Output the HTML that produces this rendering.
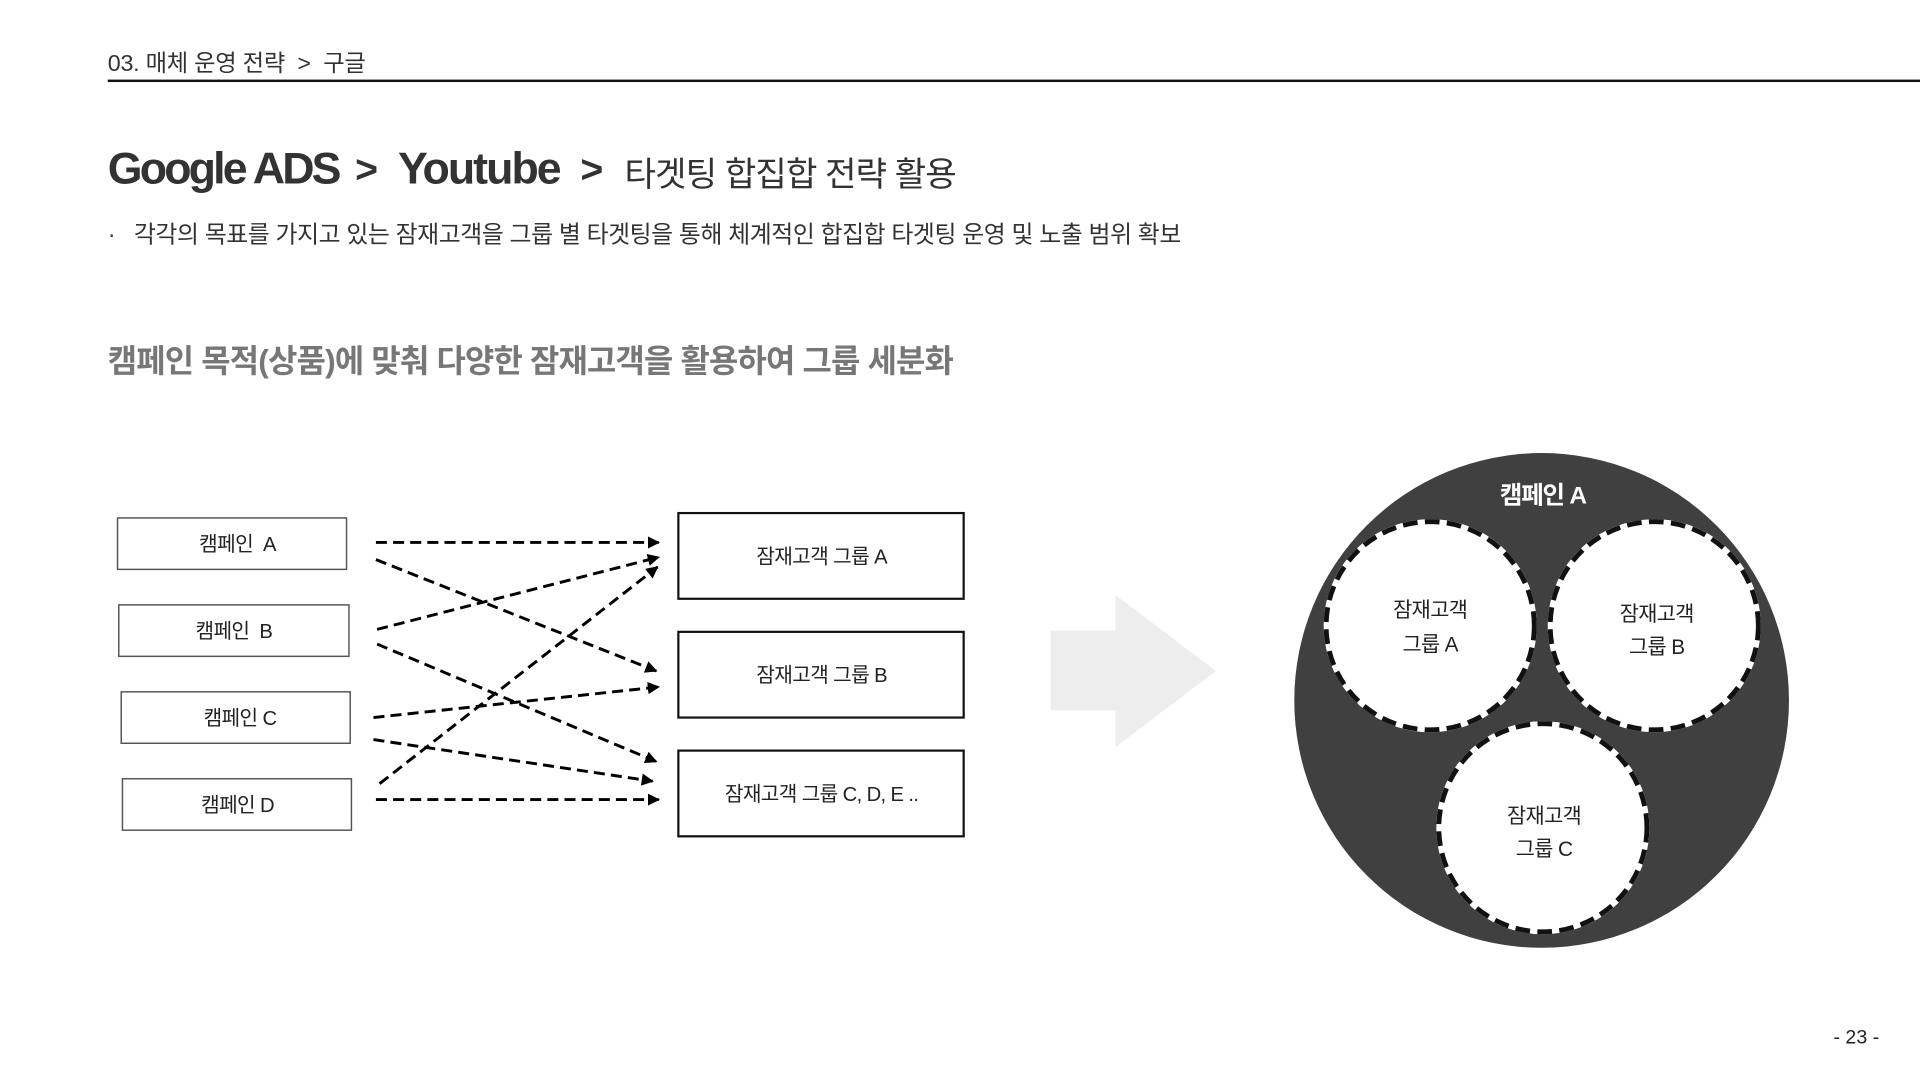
<!DOCTYPE html>
<html><head><meta charset="utf-8"><style>
html,body{margin:0;padding:0;background:#fff;overflow:hidden}
body{width:1920px;height:1080px}
#w{position:absolute;left:0;top:0;width:1568px;height:882px;transform:scale(1.22449);transform-origin:0 0;font-family:"Liberation Sans","Noto Sans CJK KR",sans-serif;color:#222}
.t{position:absolute;white-space:nowrap}
</style></head><body><div id="w">
<div class="t" style="left:88px;top:37px;font-size:19px;color:#333;letter-spacing:-0.2px">03. 매체 운영 전략&nbsp; &gt;&nbsp; 구글</div>
<div style="position:absolute;left:88px;top:65px;width:1480px;height:2px;background:#111"></div>
<div class="t" style="left:88px;top:117px;font-size:36.5px;font-weight:bold;color:#333;letter-spacing:-2.3px">Google ADS</div>
<div class="t" style="left:290px;top:120px;font-size:32px;font-weight:bold;color:#333">&gt;</div>
<div class="t" style="left:325px;top:117px;font-size:36.5px;font-weight:bold;color:#333;letter-spacing:-1.6px">Youtube</div>
<div class="t" style="left:474px;top:120px;font-size:32px;font-weight:bold;color:#333">&gt;</div>
<div class="t" style="left:510px;top:121px;font-size:28px;color:#333;letter-spacing:-0.8px">타겟팅 합집합 전략 활용</div>
<div class="t" style="left:88px;top:175px;font-size:19.5px;color:#333;letter-spacing:-0.35px">·&nbsp;&nbsp; 각각의 목표를 가지고 있는 잠재고객을 그룹 별 타겟팅을 통해 체계적인 합집합 타겟팅 운영 및 노출 범위 확보</div>
<div class="t" style="left:88px;top:275px;font-size:26px;font-weight:bold;color:#777;letter-spacing:-0.65px">캠페인 목적(상품)에 맞춰 다양한 잠재고객을 활용하여 그룹 세분화</div>
<svg style="position:absolute;left:0;top:0" width="1568" height="882" font-family="Liberation Sans, Noto Sans CJK KR, sans-serif">
<defs><marker id="a" markerWidth="10" markerHeight="10" refX="9" refY="5" orient="auto" markerUnits="userSpaceOnUse"><path d="M0,0 L10,5 L0,10z" fill="#000"/></marker></defs>
<g fill="#fff" stroke="#555" stroke-width="1.2">
<rect x="96" y="423" width="187" height="42"/><rect x="97" y="494" width="188" height="42"/><rect x="99" y="565" width="187" height="42"/><rect x="100" y="636" width="187" height="42"/></g>
<g font-size="16.5" fill="#222" text-anchor="middle" letter-spacing="-0.5">
<text x="194" y="450">캠페인&#160; A</text><text x="191" y="521">캠페인&#160; B</text><text x="196" y="592">캠페인 C</text><text x="194" y="663">캠페인 D</text></g>
<g fill="#fff" stroke="#111" stroke-width="1.8">
<rect x="554" y="419" width="233" height="70"/><rect x="554" y="516" width="233" height="70"/><rect x="554" y="613" width="233" height="70"/></g>
<g font-size="16.5" fill="#222" text-anchor="middle" letter-spacing="-0.5">
<text x="671" y="460">잠재고객 그룹 A</text><text x="671" y="557">잠재고객 그룹 B</text><text x="671" y="654">잠재고객 그룹 C, D, E ..</text></g>
<g stroke="#000" stroke-width="2.4" stroke-dasharray="9,5" fill="none" marker-end="url(#a)">
<line x1="307" y1="443" x2="538" y2="443"/><line x1="307" y1="457" x2="536" y2="548"/>
<line x1="308" y1="514" x2="538" y2="455"/><line x1="308" y1="526" x2="536" y2="622"/>
<line x1="305" y1="586" x2="538" y2="561"/><line x1="305" y1="604" x2="533" y2="638"/>
<line x1="310" y1="640" x2="537" y2="463"/><line x1="307" y1="653" x2="538" y2="653"/></g>
<path d="M858,515 H911 V486 L993,548 L911,610 V580 H858z" fill="#ededed"/>
<circle cx="1259" cy="572" r="202" fill="#404040"/>
<text x="1260" y="411" font-size="20" font-weight="bold" fill="#fff" text-anchor="middle" letter-spacing="-1">캠페인 A</text>
<g fill="#fff" stroke="#fff" stroke-width="4"><circle cx="1168" cy="511" r="85"/><circle cx="1351" cy="511" r="85"/><circle cx="1260" cy="676" r="85"/></g>
<g fill="none" stroke="#111" stroke-width="4" stroke-dasharray="12,6"><circle cx="1168" cy="511" r="85"/><circle cx="1351" cy="511" r="85"/><circle cx="1260" cy="676" r="85"/></g>
<g font-size="17" fill="#222" text-anchor="middle" letter-spacing="-0.5">
<text x="1168" y="504">잠재고객</text><text x="1168" y="532">그룹 A</text>
<text x="1353" y="507">잠재고객</text><text x="1353" y="534">그룹 B</text>
<text x="1261" y="672">잠재고객</text><text x="1261" y="699">그룹 C</text></g>
<text x="1516" y="852" font-size="16" fill="#222" text-anchor="middle">- 23 -</text>
</svg>
</div></body></html>
